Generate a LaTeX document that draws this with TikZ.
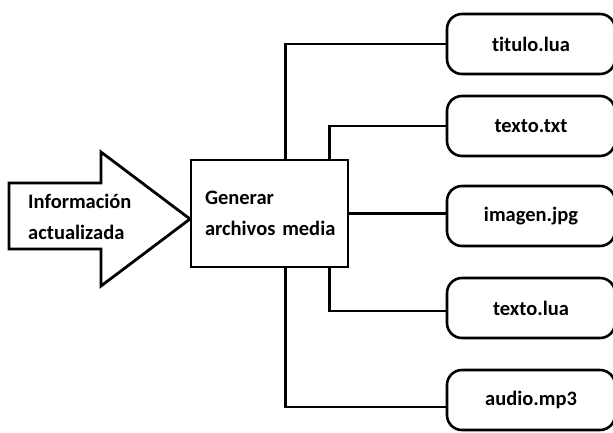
\documentclass[tikz,border=0pt]{standalone}
\usepackage{fontspec}
\setmainfont{Carlito}[Ligatures=NoCommon]

\tikzset{
    labelfont/.style={font=\bfseries\fontsize{20.5}{31}\selectfont},
    filebox/.style={draw, labelfont, rounded corners=15pt, line width=2.6pt,
        minimum width=168pt, minimum height=60pt},
    procbox/.style={draw, labelfont, line width=2.8pt, align=left,
        text width=129pt, inner xsep=14pt, minimum height=107pt},
    link/.style={line width=2.8pt}
}

\begin{document}
\begin{tikzpicture}[x=1pt, y=-1pt]
    \useasboundingbox (0,0) rectangle (613,432);

    % input arrow
    \draw[line width=2.8pt] (9,183) -- (101,183) -- (101,152) -- (190,219)
        -- (101,286) -- (101,249) -- (9,249) -- cycle;
    \node[labelfont, anchor=west, align=left, inner sep=0pt] (info) at (28,217)
        {Información\\actualizada};

    \node[procbox] (gen) at (269.5,213.5) {Generar\\\mbox{archivos media}};

    % output files
    \node[filebox] (titulo) at (531,44) {titulo.lua};
    \node[filebox] (txt) at (531,126) {texto.txt};
    \node[filebox] (imagen) at (531,216) {imagen.jpg};
    \node[filebox] (lua) at (531,308) {texto.lua};
    \node[filebox] (audio) at (531,400) {audio.mp3};

    \draw[link] ([xshift=16pt]gen.north) |- (titulo.west);
    \draw[link] ([xshift=60pt]gen.north) |- (txt.west);
    \draw[link] (gen.east) -- (gen.east -| imagen.west);
    \draw[link] ([xshift=60pt]gen.south) |- ([yshift=-3pt]lua.west);
    \draw[link] ([xshift=16pt]gen.south) |- ([yshift=-7pt]audio.west);
\end{tikzpicture}
\end{document}
